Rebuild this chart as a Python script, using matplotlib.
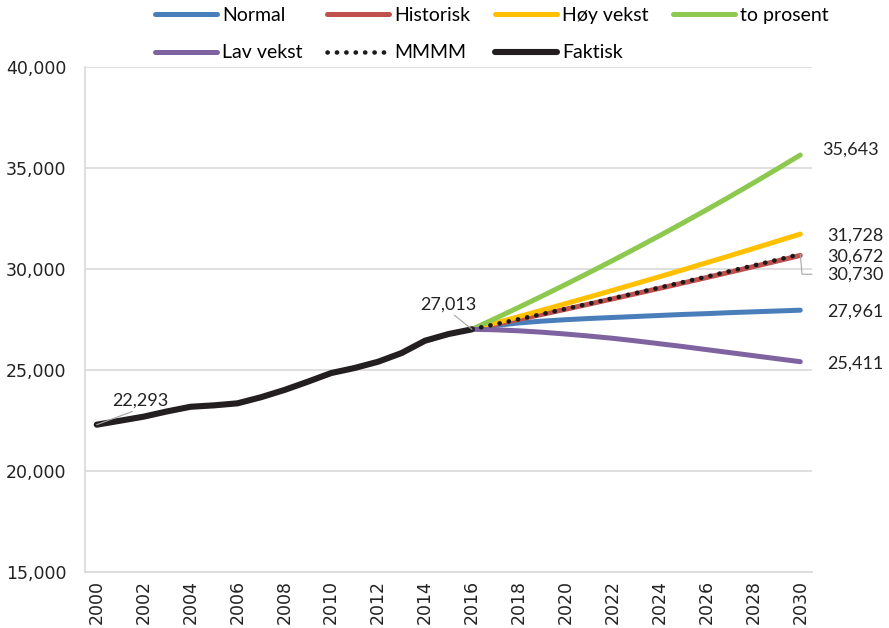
import matplotlib.pyplot as plt
from matplotlib.ticker import FuncFormatter

# actual values 2000-2016
years_actual = list(range(2000, 2017))
faktisk = [22293, 22490, 22690, 22950, 23180, 23250, 23350, 23650, 24010, 24420,
           24850, 25100, 25410, 25840, 26450, 26780, 27013]

# projections 2016-2030
years_proj = list(range(2016, 2031))
normal = [27013, 27200, 27330, 27420, 27490, 27550, 27600, 27650, 27700, 27750,
          27790, 27840, 27880, 27920, 27961]
historisk = [27013, 27259, 27507, 27757, 28010, 28265, 28522, 28782, 29044, 29308,
             29575, 29844, 30116, 30390, 30672]
hoy_vekst = [27013, 27326, 27642, 27962, 28286, 28613, 28944, 29279, 29618, 29960,
             30307, 30658, 31012, 31371, 31728]
to_prosent = [27013, 27553, 28104, 28666, 29239, 29824, 30421, 31029, 31650, 32283,
              32928, 33587, 34259, 34944, 35643]
lav_vekst = [27013, 26990, 26940, 26870, 26780, 26680, 26570, 26440, 26300, 26160,
             26010, 25860, 25710, 25560, 25411]
mmmm = [27013, 27263, 27515, 27770, 28027, 28286, 28548, 28812, 29079, 29348,
        29619, 29893, 30170, 30449, 30730]

label_font = ['Lato', 'DejaVu Sans']
txt = '#222222'
lead = dict(arrowstyle='-', color='#A6A6A6', lw=0.8, shrinkA=0, shrinkB=0)

fig = plt.figure(figsize=(8.89, 6.28), dpi=100)
ax = fig.add_axes([85 / 889, 1 - 572 / 628, (812 - 85) / 889, (572 - 67) / 628])

lw = 3.6
l_norm, = ax.plot(years_proj, normal, color='#4A7EBB', lw=lw, label='Normal', solid_capstyle='round')
l_hist, = ax.plot(years_proj, historisk, color='#C0504D', lw=lw, label='Historisk', solid_capstyle='round')
l_hoy, = ax.plot(years_proj, hoy_vekst, color='#FFC000', lw=lw, label='Høy vekst', solid_capstyle='round')
l_to, = ax.plot(years_proj, to_prosent, color='#8DC84F', lw=lw, label='to prosent', solid_capstyle='round')
l_lav, = ax.plot(years_proj, lav_vekst, color='#7F63A1', lw=lw, label='Lav vekst', solid_capstyle='round')
l_mm, = ax.plot(years_proj, mmmm, color='#1a1a1a', lw=3.3, ls=(0, (0.05, 2.0)),
                dash_capstyle='round', label='MMMM')
l_fak, = ax.plot(years_actual, faktisk, color='#231F20', lw=4.4, label='Faktisk',
                 solid_capstyle='round', solid_joinstyle='round')

ax.set_xlim(1999.5, 2030.5)
ax.set_ylim(15000, 40000)
ax.set_yticks(range(15000, 40001, 5000))
ax.yaxis.set_major_formatter(FuncFormatter(lambda v, p: f'{int(v):,}'))
ax.set_xticks(range(2000, 2031, 2))
ax.tick_params(axis='x', labelrotation=90, length=0, labelsize=12.5, colors=txt, pad=6)
ax.tick_params(axis='y', length=0, labelsize=12.5, colors=txt, pad=13.5)
ax.grid(axis='y', color='#D9D9D9', lw=1.2)
ax.set_axisbelow(True)
for s in ['top', 'right']:
    ax.spines[s].set_visible(False)
for s in ['left', 'bottom']:
    ax.spines[s].set_color('#D9D9D9')
    ax.spines[s].set_linewidth(1.2)

# data labels
ax.annotate(f'{faktisk[0]:,}', xy=(years_actual[0], faktisk[0]), xytext=(15, 16),
            textcoords='offset pixels', fontsize=13, family=label_font, color=txt,
            ha='left', va='bottom', arrowprops=dict(lead, relpos=(0.5, 0)))
ax.annotate(f'{faktisk[-1]:,}', xy=(years_actual[-1], faktisk[-1]), xytext=(-52, 17),
            textcoords='offset pixels', fontsize=13, family=label_font, color=txt,
            ha='left', va='bottom', arrowprops=dict(lead, relpos=(0.55, 0)))

end_labels = [(to_prosent[-1], 22, 5), (hoy_vekst[-1], 27, -2), (historisk[-1], 27, -1),
              (normal[-1], 27, -1), (lav_vekst[-1], 27, -2)]
for val, dx, dy in end_labels:
    ax.annotate(f'{val:,}', xy=(2030, val), xytext=(dx, dy), textcoords='offset pixels',
                fontsize=13, family=label_font, color=txt, ha='left', va='center')
ax.annotate(f'{mmmm[-1]:,}', xy=(2030, mmmm[-1]), xytext=(27, -20), textcoords='offset pixels',
            fontsize=13, family=label_font, color=txt, ha='left', va='center',
            arrowprops=dict(lead, shrinkA=9, relpos=(0, 0.5),
                            connectionstyle='angle,angleA=0,angleB=95,rad=0'))

# legend filled column-wise, so order gives the two rows of the reference
handles = [l_norm, l_lav, l_hist, l_mm, l_hoy, l_fak, l_to]
fig.legend(handles=handles, loc='upper left', bbox_to_anchor=(151 / 889, 0.995), ncol=4,
           frameon=False, prop={'family': label_font, 'size': 14}, handlelength=3.2,
           handletextpad=0.26, columnspacing=1.25, labelspacing=1.05, borderpad=0.2,
           borderaxespad=0)

fig.savefig('out.png', dpi=100)
